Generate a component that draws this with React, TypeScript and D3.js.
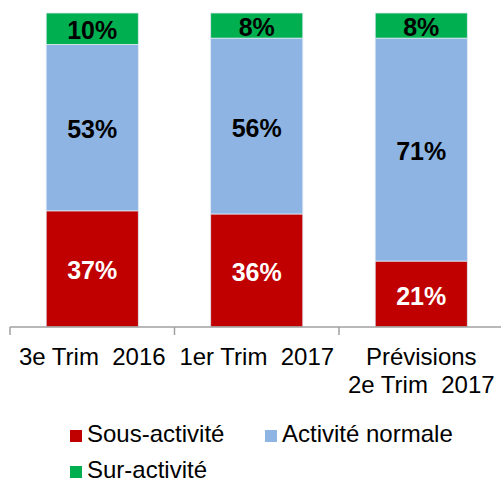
import React from "react";
import * as d3 from "d3";

const categories = ["3e Trim  2016", "1er Trim  2017", "Prévisions\n2e Trim  2017"];
const sousActivite = [37, 36, 21];
const activiteNormale = [53, 56, 71];
const surActivite = [10, 8, 8];
const seriesNames = ["Sous-activité", "Activité normale", "Sur-activité"];
const colors = ["#C00000", "#8DB4E2", "#00B050"];
const labelColors = ["#FFFFFF", "#000000", "#000000"];

const W = 501;
const H = 485;
const FONT = "'Liberation Sans', Arial, sans-serif";

export default function App() {
  const x = d3
    .scaleBand<string>()
    .domain(categories)
    .range([10, 503.5])
    .paddingInner(0.44)
    .paddingOuter(0.22);
  const y = d3.scaleLinear().domain([0, 100]).range([327, 13]);

  const table = categories.map((c, i) => ({
    cat: c,
    s0: sousActivite[i],
    s1: activiteNormale[i],
    s2: surActivite[i],
  }));
  const stack = d3.stack<any>().keys(["s0", "s1", "s2"])(table);

  const step = x.step();
  const ticks = [0, 1, 2, 3].map((i) => 10 + i * step);

  return (
    <svg
      width={W}
      height={H}
      style={{ position: "absolute", left: 0, top: 0, background: "#fff" }}
      fontFamily={FONT}
    >
      {stack.map((layer, si) =>
        layer.map((d, ci) => {
          const x0 = x(categories[ci])!;
          const bw = x.bandwidth();
          const y0 = y(d[1]);
          const h = y(d[0]) - y(d[1]);
          const v = d[1] - d[0];
          return (
            <g key={`${si}-${ci}`}>
              <rect
                x={x0}
                y={y0}
                width={bw}
                height={h}
                fill={colors[si]}
                stroke="#dfe8f3"
                strokeWidth={0.8}
              />
              <text
                x={x0 + bw / 2}
                y={y0 + h / 2 + 10.5}
                textAnchor="middle"
                fontSize={25}
                fontWeight="bold"
                fill={labelColors[si]}
              >
                {v}%
              </text>
            </g>
          );
        })
      )}
      <line x1={10} x2={W} y1={327} y2={327} stroke="#A0A0A0" strokeWidth={1.5} />
      {ticks.map((t, i) => (
        <line key={i} x1={t} x2={t} y1={327} y2={335} stroke="#A0A0A0" strokeWidth={1.5} />
      ))}
      {categories.map((c, i) => {
        const cx = x(c)! + x.bandwidth() / 2;
        const lines = c.split("\n");
        return (
          <text key={c} textAnchor="middle" fontSize={24} fill="#000">
            {lines.map((l, li) => (
              <tspan key={li} x={cx} y={365 + li * 28} style={{ whiteSpace: "pre" }}>
                {l}
              </tspan>
            ))}
          </text>
        );
      })}
      {[
        { name: seriesNames[0], color: colors[0], x: 70, y: 430 },
        { name: seriesNames[1], color: colors[1], x: 265, y: 430 },
        { name: seriesNames[2], color: colors[2], x: 70, y: 466 },
      ].map((l) => (
        <g key={l.name}>
          <rect x={l.x} y={l.y} width={12} height={12} fill={l.color} />
          <text x={l.x + 17} y={l.y + 12} fontSize={24} fill="#000">
            {l.name}
          </text>
        </g>
      ))}
    </svg>
  );
}
